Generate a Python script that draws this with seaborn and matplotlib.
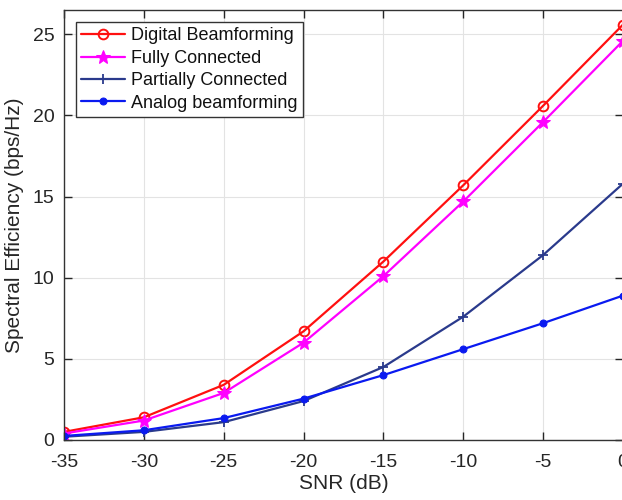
import matplotlib
matplotlib.use("Agg")
import matplotlib.pyplot as plt
import seaborn as sns
import pandas as pd

snr = [-35, -30, -25, -20, -15, -10, -5, 0]
digital = [0.5, 1.4, 3.4, 6.7, 11.0, 15.7, 20.6, 25.6]
fully = [0.4, 1.2, 2.9, 6.0, 10.1, 14.7, 19.6, 24.6]
partially = [0.2, 0.5, 1.1, 2.4, 4.5, 7.6, 11.4, 15.8]
analog = [0.25, 0.6, 1.35, 2.55, 4.0, 5.6, 7.2, 8.9]

names = ["Digital Beamforming", "Fully Connected", "Partially Connected", "Analog beamforming"]
series = [digital, fully, partially, analog]
colors = ["#FF1010", "#FF00FF", "#2A3A8C", "#0A1AF0"]
markers = ["o", "*", "+", "o"]
msizes = [7, 10, 7, 5]

sns.set_style("ticks")
plt.rcParams['font.family'] = ['Liberation Sans', 'DejaVu Sans']

fig = plt.figure(figsize=(6.22, 5.0), dpi=100)
ax = fig.add_axes([64/622, 60/500, 559/622, 430/500])

for name, vals, c, m, ms in zip(names, series, colors, markers, msizes):
    df = pd.DataFrame({"SNR": snr, "SE": vals})
    kw = dict(marker=m, markersize=ms, color=c, linewidth=1.6, label=name,
              markeredgecolor=c)
    if name == "Digital Beamforming":
        kw.update(markerfacecolor="none", markeredgewidth=1.4)
    elif name == "Partially Connected":
        kw.update(markeredgewidth=1.3)
    sns.lineplot(data=df, x="SNR", y="SE", ax=ax, **kw)

ax.set_xlim(-35, 0)
ax.set_ylim(0, 26.5)
ax.set_xticks(snr)
ax.set_xticklabels(["-35", "-30", "-25", "-20", "-15", "-10", "-5", "0"])
ax.set_yticks([0, 5, 10, 15, 20, 25])
ax.grid(True, color="#E3E3E3", linewidth=0.8)
ax.tick_params(direction="in", top=True, right=True, labelsize=14, length=6, width=1,
               colors="#262626")
ax.tick_params(axis="x", pad=10)
ax.tick_params(axis="y", pad=7)
for s in ax.spines.values():
    s.set_visible(True)
    s.set_color("#333333")
    s.set_linewidth(1.0)
ax.set_xlabel("SNR (dB)", fontsize=15, color="#262626", labelpad=2)
ax.set_ylabel("Spectral Efficiency (bps/Hz)", fontsize=15, color="#262626", labelpad=6)

leg = ax.legend(loc="upper left", bbox_to_anchor=(0.021, 0.972), fontsize=13,
                frameon=True, fancybox=False, edgecolor="#333333", framealpha=1,
                handlelength=2.45, borderpad=0.3, labelspacing=0.3, handletextpad=0.3,
                borderaxespad=0)
leg.get_frame().set_linewidth(1.0)
for t in leg.get_texts():
    t.set_color("#111111")

fig.savefig("out.png", dpi=100)
